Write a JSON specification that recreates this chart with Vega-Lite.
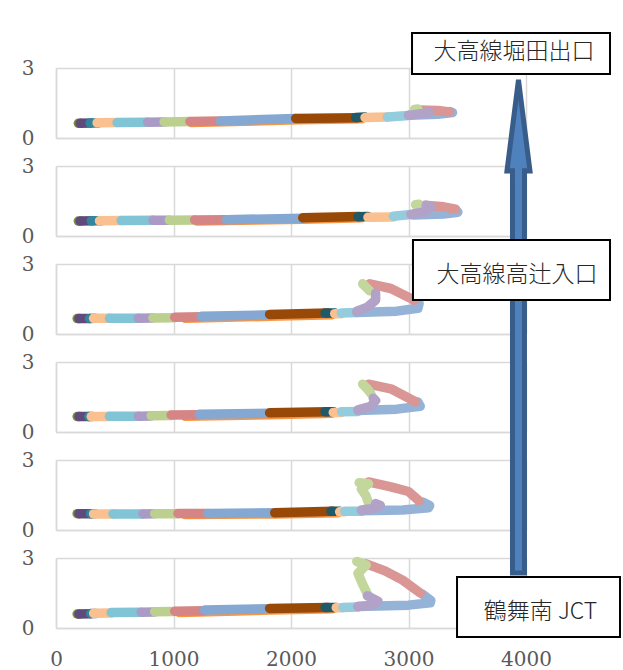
{
  "$schema": "https://vega.github.io/schema/vega-lite/v6.json",
  "autosize": {"type": "pad"},
  "padding": {"left": 21, "top": 32, "right": 0, "bottom": 0},
  "bounds": "flush",
  "spacing": 28,
  "config": {
    "view": {"stroke": null},
    "axis": {
      "labelFont": "DejaVu Serif, Liberation Serif, serif", "labelFontSize": 20, "labelColor": "#595959",
      "labelFlush": false, "ticks": false, "title": null,
      "domainColor": "#D9D9D9", "domainWidth": 1.5, "gridColor": "#D9D9D9", "gridWidth": 1.5, "gridOpacity": 1
    }
  },
  "datasets": {
    "curves": [
      {"panel":1,"series":"s00","ord":1,"x":1150,"y":0.66},{"panel":1,"series":"s00","ord":2,"x":2050,"y":0.78},{"panel":1,"series":"s00","ord":3,"x":2600,"y":0.82},
      {"panel":1,"series":"s01","ord":1,"x":190,"y":0.63},{"panel":1,"series":"s01","ord":2,"x":210,"y":0.63},
      {"panel":1,"series":"s02","ord":1,"x":205,"y":0.63},{"panel":1,"series":"s02","ord":2,"x":300,"y":0.64},
      {"panel":1,"series":"s03","ord":1,"x":290,"y":0.64},{"panel":1,"series":"s03","ord":2,"x":360,"y":0.64},
      {"panel":1,"series":"s04","ord":1,"x":350,"y":0.65},{"panel":1,"series":"s04","ord":2,"x":520,"y":0.66},
      {"panel":1,"series":"s05","ord":1,"x":520,"y":0.66},{"panel":1,"series":"s05","ord":2,"x":780,"y":0.68},
      {"panel":1,"series":"s06","ord":1,"x":780,"y":0.68},{"panel":1,"series":"s06","ord":2,"x":920,"y":0.69},
      {"panel":1,"series":"s07","ord":1,"x":920,"y":0.69},{"panel":1,"series":"s07","ord":2,"x":1140,"y":0.71},
      {"panel":1,"series":"s08","ord":1,"x":1140,"y":0.71},{"panel":1,"series":"s08","ord":2,"x":1400,"y":0.73},
      {"panel":1,"series":"s09","ord":1,"x":1400,"y":0.73},{"panel":1,"series":"s09","ord":2,"x":2040,"y":0.84},
      {"panel":1,"series":"s10","ord":1,"x":2040,"y":0.84},{"panel":1,"series":"s10","ord":2,"x":2570,"y":0.87},
      {"panel":1,"series":"s11","ord":1,"x":2550,"y":0.88},{"panel":1,"series":"s11","ord":2,"x":2630,"y":0.90},
      {"panel":1,"series":"s12","ord":1,"x":2630,"y":0.88},{"panel":1,"series":"s12","ord":2,"x":2820,"y":0.90},
      {"panel":1,"series":"s13","ord":1,"x":2820,"y":0.90},{"panel":1,"series":"s13","ord":2,"x":3000,"y":0.96},
      {"panel":1,"series":"s17","ord":1,"x":3000,"y":0.98},{"panel":1,"series":"s17","ord":2,"x":3250,"y":1.02},{"panel":1,"series":"s17","ord":3,"x":3375,"y":1.09},{"panel":1,"series":"s17","ord":4,"x":3350,"y":1.13},
      {"panel":1,"series":"s16","ord":1,"x":3090,"y":1.20},{"panel":1,"series":"s16","ord":2,"x":3250,"y":1.18},{"panel":1,"series":"s16","ord":3,"x":3350,"y":1.12},
      {"panel":1,"series":"s15","ord":1,"x":3050,"y":1.22},{"panel":1,"series":"s15","ord":2,"x":3080,"y":1.24},
      {"panel":1,"series":"s14","ord":1,"x":3000,"y":0.97},{"panel":1,"series":"s14","ord":2,"x":3120,"y":1.05},{"panel":1,"series":"s14","ord":3,"x":3180,"y":1.10},

      {"panel":2,"series":"s00","ord":1,"x":1200,"y":0.64},{"panel":2,"series":"s00","ord":2,"x":2100,"y":0.72},{"panel":2,"series":"s00","ord":3,"x":2600,"y":0.78},
      {"panel":2,"series":"s01","ord":1,"x":190,"y":0.64},{"panel":2,"series":"s01","ord":2,"x":210,"y":0.64},
      {"panel":2,"series":"s02","ord":1,"x":205,"y":0.64},{"panel":2,"series":"s02","ord":2,"x":315,"y":0.65},
      {"panel":2,"series":"s03","ord":1,"x":300,"y":0.65},{"panel":2,"series":"s03","ord":2,"x":385,"y":0.65},
      {"panel":2,"series":"s04","ord":1,"x":370,"y":0.65},{"panel":2,"series":"s04","ord":2,"x":555,"y":0.66},
      {"panel":2,"series":"s05","ord":1,"x":555,"y":0.66},{"panel":2,"series":"s05","ord":2,"x":825,"y":0.67},
      {"panel":2,"series":"s06","ord":1,"x":825,"y":0.67},{"panel":2,"series":"s06","ord":2,"x":965,"y":0.68},
      {"panel":2,"series":"s07","ord":1,"x":965,"y":0.68},{"panel":2,"series":"s07","ord":2,"x":1180,"y":0.69},
      {"panel":2,"series":"s08","ord":1,"x":1180,"y":0.69},{"panel":2,"series":"s08","ord":2,"x":1450,"y":0.70},
      {"panel":2,"series":"s09","ord":1,"x":1450,"y":0.70},{"panel":2,"series":"s09","ord":2,"x":2100,"y":0.76},
      {"panel":2,"series":"s10","ord":1,"x":2100,"y":0.78},{"panel":2,"series":"s10","ord":2,"x":2580,"y":0.84},
      {"panel":2,"series":"s11","ord":1,"x":2570,"y":0.83},{"panel":2,"series":"s11","ord":2,"x":2655,"y":0.84},
      {"panel":2,"series":"s12","ord":1,"x":2655,"y":0.80},{"panel":2,"series":"s12","ord":2,"x":2870,"y":0.81},
      {"panel":2,"series":"s13","ord":1,"x":2870,"y":0.85},{"panel":2,"series":"s13","ord":2,"x":3020,"y":0.92},
      {"panel":2,"series":"s17","ord":1,"x":3040,"y":0.90},{"panel":2,"series":"s17","ord":2,"x":3300,"y":0.94},{"panel":2,"series":"s17","ord":3,"x":3420,"y":1.02},{"panel":2,"series":"s17","ord":4,"x":3400,"y":1.12},
      {"panel":2,"series":"s16","ord":1,"x":3140,"y":1.32},{"panel":2,"series":"s16","ord":2,"x":3300,"y":1.25},{"panel":2,"series":"s16","ord":3,"x":3400,"y":1.15},
      {"panel":2,"series":"s15","ord":1,"x":3060,"y":1.34},{"panel":2,"series":"s15","ord":2,"x":3090,"y":1.36},
      {"panel":2,"series":"s14","ord":1,"x":3020,"y":0.93},{"panel":2,"series":"s14","ord":2,"x":3150,"y":1.05},{"panel":2,"series":"s14","ord":3,"x":3190,"y":1.25},{"panel":2,"series":"s14","ord":4,"x":3150,"y":1.32},

      {"panel":3,"series":"s00","ord":1,"x":1100,"y":0.67},{"panel":3,"series":"s00","ord":2,"x":1818,"y":0.76},{"panel":3,"series":"s00","ord":3,"x":2350,"y":0.83},
      {"panel":3,"series":"s01","ord":1,"x":180,"y":0.66},{"panel":3,"series":"s01","ord":2,"x":200,"y":0.66},
      {"panel":3,"series":"s02","ord":1,"x":195,"y":0.66},{"panel":3,"series":"s02","ord":2,"x":285,"y":0.66},
      {"panel":3,"series":"s03","ord":1,"x":285,"y":0.66},{"panel":3,"series":"s03","ord":2,"x":330,"y":0.67},
      {"panel":3,"series":"s04","ord":1,"x":320,"y":0.67},{"panel":3,"series":"s04","ord":2,"x":455,"y":0.67},
      {"panel":3,"series":"s05","ord":1,"x":455,"y":0.67},{"panel":3,"series":"s05","ord":2,"x":700,"y":0.68},
      {"panel":3,"series":"s06","ord":1,"x":700,"y":0.68},{"panel":3,"series":"s06","ord":2,"x":825,"y":0.69},
      {"panel":3,"series":"s07","ord":1,"x":825,"y":0.69},{"panel":3,"series":"s07","ord":2,"x":1010,"y":0.70},
      {"panel":3,"series":"s08","ord":1,"x":1010,"y":0.72},{"panel":3,"series":"s08","ord":2,"x":1237,"y":0.74},
      {"panel":3,"series":"s09","ord":1,"x":1237,"y":0.76},{"panel":3,"series":"s09","ord":2,"x":1818,"y":0.82},
      {"panel":3,"series":"s10","ord":1,"x":1818,"y":0.84},{"panel":3,"series":"s10","ord":2,"x":2315,"y":0.90},
      {"panel":3,"series":"s11","ord":1,"x":2290,"y":0.90},{"panel":3,"series":"s11","ord":2,"x":2372,"y":0.90},
      {"panel":3,"series":"s12","ord":1,"x":2372,"y":0.87},{"panel":3,"series":"s12","ord":2,"x":2428,"y":0.87},
      {"panel":3,"series":"s13","ord":1,"x":2428,"y":0.90},{"panel":3,"series":"s13","ord":2,"x":2560,"y":0.92},
      {"panel":3,"series":"s17","ord":1,"x":2560,"y":0.92},{"panel":3,"series":"s17","ord":2,"x":2900,"y":0.98},{"panel":3,"series":"s17","ord":3,"x":3080,"y":1.10},{"panel":3,"series":"s17","ord":4,"x":3090,"y":1.30},{"panel":3,"series":"s17","ord":5,"x":3050,"y":1.42},
      {"panel":3,"series":"s16","ord":1,"x":2670,"y":2.15},{"panel":3,"series":"s16","ord":2,"x":2850,"y":1.95},{"panel":3,"series":"s16","ord":3,"x":3050,"y":1.45},
      {"panel":3,"series":"s15","ord":1,"x":2610,"y":2.15},{"panel":3,"series":"s15","ord":2,"x":2650,"y":1.95},{"panel":3,"series":"s15","ord":3,"x":2670,"y":1.85},
      {"panel":3,"series":"s14","ord":1,"x":2560,"y":0.98},{"panel":3,"series":"s14","ord":2,"x":2650,"y":1.15},{"panel":3,"series":"s14","ord":3,"x":2720,"y":1.45},{"panel":3,"series":"s14","ord":4,"x":2720,"y":1.75},

      {"panel":4,"series":"s00","ord":1,"x":1100,"y":0.67},{"panel":4,"series":"s00","ord":2,"x":1818,"y":0.74},{"panel":4,"series":"s00","ord":3,"x":2350,"y":0.80},
      {"panel":4,"series":"s01","ord":1,"x":180,"y":0.66},{"panel":4,"series":"s01","ord":2,"x":200,"y":0.66},
      {"panel":4,"series":"s02","ord":1,"x":195,"y":0.66},{"panel":4,"series":"s02","ord":2,"x":285,"y":0.66},
      {"panel":4,"series":"s03","ord":1,"x":280,"y":0.66},{"panel":4,"series":"s03","ord":2,"x":310,"y":0.66},
      {"panel":4,"series":"s04","ord":1,"x":300,"y":0.66},{"panel":4,"series":"s04","ord":2,"x":455,"y":0.66},
      {"panel":4,"series":"s05","ord":1,"x":455,"y":0.67},{"panel":4,"series":"s05","ord":2,"x":700,"y":0.67},
      {"panel":4,"series":"s06","ord":1,"x":700,"y":0.68},{"panel":4,"series":"s06","ord":2,"x":810,"y":0.69},
      {"panel":4,"series":"s07","ord":1,"x":810,"y":0.70},{"panel":4,"series":"s07","ord":2,"x":980,"y":0.71},
      {"panel":4,"series":"s08","ord":1,"x":980,"y":0.73},{"panel":4,"series":"s08","ord":2,"x":1220,"y":0.74},
      {"panel":4,"series":"s09","ord":1,"x":1220,"y":0.76},{"panel":4,"series":"s09","ord":2,"x":1818,"y":0.80},
      {"panel":4,"series":"s10","ord":1,"x":1818,"y":0.82},{"panel":4,"series":"s10","ord":2,"x":2315,"y":0.87},
      {"panel":4,"series":"s11","ord":1,"x":2290,"y":0.87},{"panel":4,"series":"s11","ord":2,"x":2360,"y":0.87},
      {"panel":4,"series":"s12","ord":1,"x":2360,"y":0.84},{"panel":4,"series":"s12","ord":2,"x":2430,"y":0.84},
      {"panel":4,"series":"s13","ord":1,"x":2430,"y":0.87},{"panel":4,"series":"s13","ord":2,"x":2570,"y":0.88},
      {"panel":4,"series":"s17","ord":1,"x":2570,"y":0.92},{"panel":4,"series":"s17","ord":2,"x":2900,"y":0.98},{"panel":4,"series":"s17","ord":3,"x":3100,"y":1.10},{"panel":4,"series":"s17","ord":4,"x":3080,"y":1.28},
      {"panel":4,"series":"s16","ord":1,"x":2660,"y":2.05},{"panel":4,"series":"s16","ord":2,"x":2850,"y":1.85},{"panel":4,"series":"s16","ord":3,"x":3060,"y":1.30},
      {"panel":4,"series":"s15","ord":1,"x":2610,"y":2.05},{"panel":4,"series":"s15","ord":2,"x":2650,"y":1.85},{"panel":4,"series":"s15","ord":3,"x":2680,"y":1.65},
      {"panel":4,"series":"s14","ord":1,"x":2570,"y":0.95},{"panel":4,"series":"s14","ord":2,"x":2680,"y":1.10},{"panel":4,"series":"s14","ord":3,"x":2720,"y":1.35},{"panel":4,"series":"s14","ord":4,"x":2700,"y":1.45},

      {"panel":5,"series":"s00","ord":1,"x":1100,"y":0.66},{"panel":5,"series":"s00","ord":2,"x":1861,"y":0.69},{"panel":5,"series":"s00","ord":3,"x":2400,"y":0.74},
      {"panel":5,"series":"s01","ord":1,"x":180,"y":0.70},{"panel":5,"series":"s01","ord":2,"x":200,"y":0.70},
      {"panel":5,"series":"s02","ord":1,"x":195,"y":0.70},{"panel":5,"series":"s02","ord":2,"x":300,"y":0.70},
      {"panel":5,"series":"s03","ord":1,"x":295,"y":0.70},{"panel":5,"series":"s03","ord":2,"x":330,"y":0.70},
      {"panel":5,"series":"s04","ord":1,"x":320,"y":0.69},{"panel":5,"series":"s04","ord":2,"x":485,"y":0.69},
      {"panel":5,"series":"s05","ord":1,"x":485,"y":0.69},{"panel":5,"series":"s05","ord":2,"x":740,"y":0.69},
      {"panel":5,"series":"s06","ord":1,"x":740,"y":0.69},{"panel":5,"series":"s06","ord":2,"x":840,"y":0.70},
      {"panel":5,"series":"s07","ord":1,"x":840,"y":0.70},{"panel":5,"series":"s07","ord":2,"x":1038,"y":0.70},
      {"panel":5,"series":"s08","ord":1,"x":1038,"y":0.71},{"panel":5,"series":"s08","ord":2,"x":1294,"y":0.71},
      {"panel":5,"series":"s09","ord":1,"x":1294,"y":0.71},{"panel":5,"series":"s09","ord":2,"x":1861,"y":0.74},
      {"panel":5,"series":"s10","ord":1,"x":1861,"y":0.74},{"panel":5,"series":"s10","ord":2,"x":2357,"y":0.80},
      {"panel":5,"series":"s11","ord":1,"x":2340,"y":0.80},{"panel":5,"series":"s11","ord":2,"x":2414,"y":0.80},
      {"panel":5,"series":"s12","ord":1,"x":2414,"y":0.78},{"panel":5,"series":"s12","ord":2,"x":2457,"y":0.78},
      {"panel":5,"series":"s13","ord":1,"x":2457,"y":0.80},{"panel":5,"series":"s13","ord":2,"x":2600,"y":0.80},
      {"panel":5,"series":"s17","ord":1,"x":2600,"y":0.82},{"panel":5,"series":"s17","ord":2,"x":2950,"y":0.86},{"panel":5,"series":"s17","ord":3,"x":3170,"y":0.95},{"panel":5,"series":"s17","ord":4,"x":3180,"y":1.05},{"panel":5,"series":"s17","ord":5,"x":3120,"y":1.20},
      {"panel":5,"series":"s16","ord":1,"x":2660,"y":2.06},{"panel":5,"series":"s16","ord":2,"x":2850,"y":1.85},{"panel":5,"series":"s16","ord":3,"x":3000,"y":1.65},{"panel":5,"series":"s16","ord":4,"x":3090,"y":1.25},
      {"panel":5,"series":"s15","ord":1,"x":2580,"y":2.03},{"panel":5,"series":"s15","ord":2,"x":2660,"y":1.98},{"panel":5,"series":"s15","ord":3,"x":2600,"y":1.75},{"panel":5,"series":"s15","ord":4,"x":2640,"y":1.45},{"panel":5,"series":"s15","ord":5,"x":2660,"y":1.15},
      {"panel":5,"series":"s14","ord":1,"x":2600,"y":0.86},{"panel":5,"series":"s14","ord":2,"x":2700,"y":0.92},{"panel":5,"series":"s14","ord":3,"x":2760,"y":1.05},{"panel":5,"series":"s14","ord":4,"x":2720,"y":1.13},

      {"panel":6,"series":"s00","ord":1,"x":1050,"y":0.66},{"panel":6,"series":"s00","ord":2,"x":1818,"y":0.77},{"panel":6,"series":"s00","ord":3,"x":2350,"y":0.82},
      {"panel":6,"series":"s01","ord":1,"x":180,"y":0.60},{"panel":6,"series":"s01","ord":2,"x":200,"y":0.60},
      {"panel":6,"series":"s02","ord":1,"x":195,"y":0.60},{"panel":6,"series":"s02","ord":2,"x":300,"y":0.61},
      {"panel":6,"series":"s03","ord":1,"x":295,"y":0.62},{"panel":6,"series":"s03","ord":2,"x":340,"y":0.62},
      {"panel":6,"series":"s04","ord":1,"x":320,"y":0.63},{"panel":6,"series":"s04","ord":2,"x":470,"y":0.64},
      {"panel":6,"series":"s05","ord":1,"x":470,"y":0.66},{"panel":6,"series":"s05","ord":2,"x":725,"y":0.67},
      {"panel":6,"series":"s06","ord":1,"x":725,"y":0.68},{"panel":6,"series":"s06","ord":2,"x":840,"y":0.69},
      {"panel":6,"series":"s07","ord":1,"x":840,"y":0.70},{"panel":6,"series":"s07","ord":2,"x":1010,"y":0.71},
      {"panel":6,"series":"s08","ord":1,"x":1010,"y":0.72},{"panel":6,"series":"s08","ord":2,"x":1265,"y":0.74},
      {"panel":6,"series":"s09","ord":1,"x":1265,"y":0.77},{"panel":6,"series":"s09","ord":2,"x":1818,"y":0.83},
      {"panel":6,"series":"s10","ord":1,"x":1818,"y":0.84},{"panel":6,"series":"s10","ord":2,"x":2315,"y":0.88},
      {"panel":6,"series":"s11","ord":1,"x":2290,"y":0.88},{"panel":6,"series":"s11","ord":2,"x":2385,"y":0.88},
      {"panel":6,"series":"s12","ord":1,"x":2385,"y":0.87},{"panel":6,"series":"s12","ord":2,"x":2442,"y":0.87},
      {"panel":6,"series":"s13","ord":1,"x":2442,"y":0.88},{"panel":6,"series":"s13","ord":2,"x":2570,"y":0.90},
      {"panel":6,"series":"s17","ord":1,"x":2570,"y":0.92},{"panel":6,"series":"s17","ord":2,"x":3000,"y":0.98},{"panel":6,"series":"s17","ord":3,"x":3185,"y":1.08},{"panel":6,"series":"s17","ord":4,"x":3190,"y":1.18},{"panel":6,"series":"s17","ord":5,"x":3120,"y":1.45},
      {"panel":6,"series":"s16","ord":1,"x":2640,"y":2.75},{"panel":6,"series":"s16","ord":2,"x":2800,"y":2.45},{"panel":6,"series":"s16","ord":3,"x":2950,"y":2.05},{"panel":6,"series":"s16","ord":4,"x":3100,"y":1.50},
      {"panel":6,"series":"s15","ord":1,"x":2560,"y":2.85},{"panel":6,"series":"s15","ord":2,"x":2640,"y":2.70},{"panel":6,"series":"s15","ord":3,"x":2570,"y":2.34},{"panel":6,"series":"s15","ord":4,"x":2613,"y":1.84},{"panel":6,"series":"s15","ord":5,"x":2655,"y":1.40},
      {"panel":6,"series":"s14","ord":1,"x":2570,"y":0.92},{"panel":6,"series":"s14","ord":2,"x":2700,"y":0.98},{"panel":6,"series":"s14","ord":3,"x":2740,"y":1.15},{"panel":6,"series":"s14","ord":4,"x":2650,"y":1.38}
    ],
    "arrowhead": [
      {"x":3838,"top":19.59,"base":19.59},
      {"x":3936,"top":23.49,"base":19.59},
      {"x":4034,"top":19.59,"base":19.59}
    ],
    "shaft": [
      {"x1":3885,"x2":3987,"top":19.59,"base":2.36}
    ],
    "joint": [
      {"x1":3906,"x2":3966,"top":20.3,"base":19.0}
    ],
    "boxes": [
      {"label":"大高線堀田出口","x1":3030,"x2":4715,"y1":25.5,"y2":23.74,"tx":3898,"ty":24.7},
      {"label":"大高線高辻入口","x1":3038,"x2":4715,"y1":16.63,"y2":14.06,"tx":3923,"ty":15.15},
      {"label":"鶴舞南 JCT","x1":3413,"x2":4800,"y1":2.19,"y2":-0.39,"tx":4123,"ty":0.7}
    ]
  },
  "vconcat": [
    {"width":470,"height":70,"data":{"name":"curves"},"transform":[{"filter":"datum.panel == 1"}],
     "mark":{"type":"line","strokeWidth":9.5,"strokeCap":"round","strokeJoin":"round"},
     "encoding":{
       "x":{"field":"x","type":"quantitative","scale":{"domain":[0,4000],"nice":false},"axis":{"values":[0,1000,2000,3000,4000],"labels":false,"grid":true}},
       "y":{"field":"y","type":"quantitative","scale":{"domain":[0,3],"nice":false},"axis":{"values":[0,3],"grid":true,"labelPadding":22}},
       "color":{"field":"series","type":"nominal","legend":null,"scale":{"domain":["s00","s01","s02","s03","s04","s05","s06","s07","s08","s09","s10","s11","s12","s13","s14","s15","s16","s17"],"range":["#F79646","#77933C","#604A7B","#31859C","#FAC090","#80C4D6","#A99BC5","#BBD08F","#D58585","#85A8D3","#984807","#215968","#FAC090","#93CDDD","#B3A2C7","#C3D69B","#D99694","#95B3D7"]}},
       "detail":{"field":"series"},
       "order":{"field":"ord","type":"quantitative"}
     }},
    {"width":470,"height":70,"data":{"name":"curves"},"transform":[{"filter":"datum.panel == 2"}],
     "mark":{"type":"line","strokeWidth":9.5,"strokeCap":"round","strokeJoin":"round"},
     "encoding":{
       "x":{"field":"x","type":"quantitative","scale":{"domain":[0,4000],"nice":false},"axis":{"values":[0,1000,2000,3000,4000],"labels":false,"grid":true}},
       "y":{"field":"y","type":"quantitative","scale":{"domain":[0,3],"nice":false},"axis":{"values":[0,3],"grid":true,"labelPadding":22}},
       "color":{"field":"series","type":"nominal","legend":null,"scale":{"domain":["s00","s01","s02","s03","s04","s05","s06","s07","s08","s09","s10","s11","s12","s13","s14","s15","s16","s17"],"range":["#F79646","#77933C","#604A7B","#31859C","#FAC090","#80C4D6","#A99BC5","#BBD08F","#D58585","#85A8D3","#984807","#215968","#FAC090","#93CDDD","#B3A2C7","#C3D69B","#D99694","#95B3D7"]}},
       "detail":{"field":"series"},
       "order":{"field":"ord","type":"quantitative"}
     }},
    {"width":470,"height":70,"data":{"name":"curves"},"transform":[{"filter":"datum.panel == 3"}],
     "mark":{"type":"line","strokeWidth":9.5,"strokeCap":"round","strokeJoin":"round"},
     "encoding":{
       "x":{"field":"x","type":"quantitative","scale":{"domain":[0,4000],"nice":false},"axis":{"values":[0,1000,2000,3000,4000],"labels":false,"grid":true}},
       "y":{"field":"y","type":"quantitative","scale":{"domain":[0,3],"nice":false},"axis":{"values":[0,3],"grid":true,"labelPadding":22}},
       "color":{"field":"series","type":"nominal","legend":null,"scale":{"domain":["s00","s01","s02","s03","s04","s05","s06","s07","s08","s09","s10","s11","s12","s13","s14","s15","s16","s17"],"range":["#F79646","#77933C","#604A7B","#31859C","#FAC090","#80C4D6","#A99BC5","#BBD08F","#D58585","#85A8D3","#984807","#215968","#FAC090","#93CDDD","#B3A2C7","#C3D69B","#D99694","#95B3D7"]}},
       "detail":{"field":"series"},
       "order":{"field":"ord","type":"quantitative"}
     }},
    {"width":470,"height":70,"data":{"name":"curves"},"transform":[{"filter":"datum.panel == 4"}],
     "mark":{"type":"line","strokeWidth":9.5,"strokeCap":"round","strokeJoin":"round"},
     "encoding":{
       "x":{"field":"x","type":"quantitative","scale":{"domain":[0,4000],"nice":false},"axis":{"values":[0,1000,2000,3000,4000],"labels":false,"grid":true}},
       "y":{"field":"y","type":"quantitative","scale":{"domain":[0,3],"nice":false},"axis":{"values":[0,3],"grid":true,"labelPadding":22}},
       "color":{"field":"series","type":"nominal","legend":null,"scale":{"domain":["s00","s01","s02","s03","s04","s05","s06","s07","s08","s09","s10","s11","s12","s13","s14","s15","s16","s17"],"range":["#F79646","#77933C","#604A7B","#31859C","#FAC090","#80C4D6","#A99BC5","#BBD08F","#D58585","#85A8D3","#984807","#215968","#FAC090","#93CDDD","#B3A2C7","#C3D69B","#D99694","#95B3D7"]}},
       "detail":{"field":"series"},
       "order":{"field":"ord","type":"quantitative"}
     }},
    {"width":470,"height":70,"data":{"name":"curves"},"transform":[{"filter":"datum.panel == 5"}],
     "mark":{"type":"line","strokeWidth":9.5,"strokeCap":"round","strokeJoin":"round"},
     "encoding":{
       "x":{"field":"x","type":"quantitative","scale":{"domain":[0,4000],"nice":false},"axis":{"values":[0,1000,2000,3000,4000],"labels":false,"grid":true}},
       "y":{"field":"y","type":"quantitative","scale":{"domain":[0,3],"nice":false},"axis":{"values":[0,3],"grid":true,"labelPadding":22}},
       "color":{"field":"series","type":"nominal","legend":null,"scale":{"domain":["s00","s01","s02","s03","s04","s05","s06","s07","s08","s09","s10","s11","s12","s13","s14","s15","s16","s17"],"range":["#F79646","#77933C","#604A7B","#31859C","#FAC090","#80C4D6","#A99BC5","#BBD08F","#D58585","#85A8D3","#984807","#215968","#FAC090","#93CDDD","#B3A2C7","#C3D69B","#D99694","#95B3D7"]}},
       "detail":{"field":"series"},
       "order":{"field":"ord","type":"quantitative"}
     }},
    {"width":470,"height":70,
     "layer":[
      {"data":{"name":"curves"},"transform":[{"filter":"datum.panel == 6"}],
       "mark":{"type":"line","strokeWidth":9.5,"strokeCap":"round","strokeJoin":"round"},
       "encoding":{
         "x":{"field":"x","type":"quantitative","scale":{"domain":[0,4000],"nice":false},"axis":{"values":[0,1000,2000,3000,4000],"format":"d","labelPadding":21,"grid":true}},
         "y":{"field":"y","type":"quantitative","scale":{"domain":[0,3],"nice":false},"axis":{"values":[0,3],"grid":true,"labelPadding":22}},
         "color":{"field":"series","type":"nominal","legend":null,"scale":{"domain":["s00","s01","s02","s03","s04","s05","s06","s07","s08","s09","s10","s11","s12","s13","s14","s15","s16","s17"],"range":["#F79646","#77933C","#604A7B","#31859C","#FAC090","#80C4D6","#A99BC5","#BBD08F","#D58585","#85A8D3","#984807","#215968","#FAC090","#93CDDD","#B3A2C7","#C3D69B","#D99694","#95B3D7"]}},
         "detail":{"field":"series"},
         "order":{"field":"ord","type":"quantitative"}
       }},
      {"data":{"name":"arrowhead"},
       "mark":{"type":"area","fill":"#4F81BD","stroke":"#385D8A","strokeWidth":5,"strokeJoin":"miter","fillOpacity":1,"opacity":1},
       "encoding":{
         "x":{"field":"x","type":"quantitative"},
         "y":{"field":"top","type":"quantitative","stack":null},
         "y2":{"field":"base"}
       }},
      {"data":{"name":"shaft"},
       "mark":{"type":"rect","fill":"#4F81BD","stroke":"#385D8A","strokeWidth":5},
       "encoding":{
         "x":{"field":"x1","type":"quantitative"},
         "x2":{"field":"x2"},
         "y":{"field":"top","type":"quantitative"},
         "y2":{"field":"base"}
       }},
      {"data":{"name":"joint"},
       "mark":{"type":"rect","fill":"#4F81BD","strokeWidth":0},
       "encoding":{
         "x":{"field":"x1","type":"quantitative"},
         "x2":{"field":"x2"},
         "y":{"field":"top","type":"quantitative"},
         "y2":{"field":"base"}
       }},
      {"data":{"name":"boxes"},
       "mark":{"type":"rect","fill":"#FFFFFF","stroke":"#000000","strokeWidth":2},
       "encoding":{
         "x":{"field":"x1","type":"quantitative"},
         "x2":{"field":"x2"},
         "y":{"field":"y1","type":"quantitative"},
         "y2":{"field":"y2"}
       }},
      {"data":{"name":"boxes"},
       "mark":{"type":"text","font":"Noto Sans CJK JP","fontSize":23,"fontWeight":300,"color":"#262626","align":"center","baseline":"middle"},
       "encoding":{
         "x":{"field":"tx","type":"quantitative"},
         "y":{"field":"ty","type":"quantitative"},
         "text":{"field":"label"}
       }}
     ]}
  ]
}
